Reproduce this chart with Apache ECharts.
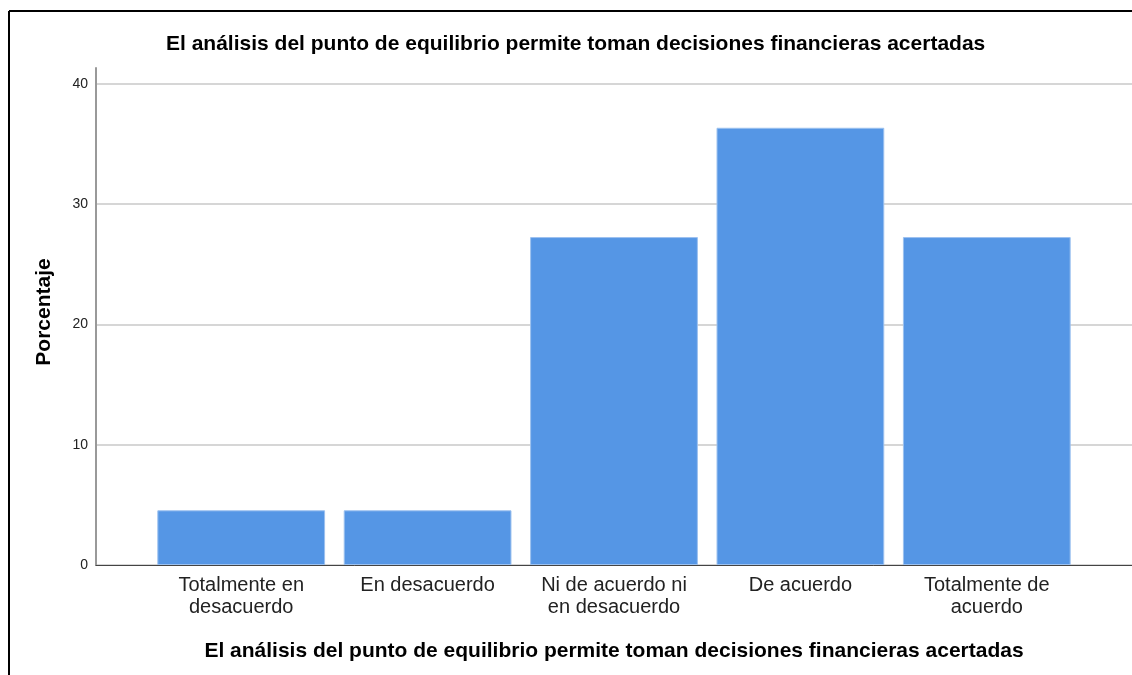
<!DOCTYPE html>
<html>
<head>
<meta charset="utf-8">
<script src="https://cdn.jsdelivr.net/npm/echarts@6/dist/echarts.min.js"></script>
<style>
html,body{margin:0;padding:0;background:#fff;}
#chart{width:1132px;height:675px;}
</style>
</head>
<body>
<div id="chart"></div>
<script>
const chartTitle = 'El análisis del punto de equilibrio permite toman decisiones financieras acertadas';
const xAxisTitle = 'El análisis del punto de equilibrio permite toman decisiones financieras acertadas';
const yAxisTitle = 'Porcentaje';
const categories = ['Totalmente en\ndesacuerdo', 'En desacuerdo', 'Ni de acuerdo ni\nen desacuerdo', 'De acuerdo', 'Totalmente de\nacuerdo'];
const percentages = [4.55, 4.55, 27.27, 36.36, 27.27];
const yMin = 0, yMax = 41.33, yStep = 10;

const FONT = '"Liberation Sans", Arial, sans-serif';
const chart = echarts.init(document.getElementById('chart'), null, {renderer: 'canvas'});
const gridTop = 68, gridBottom = 110;
chart.setOption({
  animation: false,
  backgroundColor: '#fff',
  title: {
    text: chartTitle,
    left: 161, top: 29,
    textStyle: {fontFamily: FONT, fontSize: 21, fontWeight: 'bold', color: '#000'}
  },
  graphic: [
    {type: 'line', shape: {x1: 9, y1: 11, x2: 1132, y2: 11}, style: {stroke: '#000', lineWidth: 2}, z: 100},
    {type: 'line', shape: {x1: 9, y1: 11, x2: 9, y2: 675}, style: {stroke: '#000', lineWidth: 2}, z: 100}
  ],
  grid: [
    {left: 96, right: 0, top: gridTop, bottom: gridBottom},
    {left: 148, right: 52, top: gridTop, bottom: gridBottom}
  ],
  xAxis: [
    {gridIndex: 0, type: 'value', min: 0, max: 1, show: true,
      axisLine: {show: true, onZero: false, lineStyle: {color: '#444', width: 1}},
      axisTick: {show: false}, axisLabel: {show: false}, splitLine: {show: false}},
    {gridIndex: 1, type: 'category', data: categories,
      axisLine: {show: false}, axisTick: {show: false},
      axisLabel: {fontFamily: FONT, fontSize: 20, color: '#222', lineHeight: 22, margin: 9, interval: 0},
      name: xAxisTitle, nameLocation: 'middle', nameGap: 76,
      nameTextStyle: {fontFamily: FONT, fontSize: 21, fontWeight: 'bold', color: '#000'}}
  ],
  yAxis: [
    {gridIndex: 0, type: 'value', min: yMin, max: yMax, interval: yStep,
      axisLine: {show: true, lineStyle: {color: '#999', width: 2}},
      axisTick: {show: false},
      axisLabel: {fontFamily: FONT, fontSize: 14, color: '#222', margin: 8, showMaxLabel: false,
        formatter: v => (v % yStep === 0 ? String(v) : '')},
      splitLine: {show: true, showMaxLine: false, lineStyle: {color: '#d6d6d6', width: 2}},
      name: yAxisTitle, nameLocation: 'middle', nameGap: 41, nameRotate: 90,
      nameTextStyle: {fontFamily: FONT, fontSize: 21, fontWeight: 'bold', color: '#000', padding: [0, 0, 0, 9]}},
    {gridIndex: 1, type: 'value', min: yMin, max: yMax, interval: yStep, show: false,
      splitLine: {show: false}}
  ],
  series: [{
    type: 'bar', xAxisIndex: 1, yAxisIndex: 1, data: percentages,
    barCategoryGap: '10%',
    itemStyle: {color: '#5596E5', borderColor: '#9cc1ef', borderWidth: 1},
    z: 3
  }]
});
</script>
</body>
</html>
